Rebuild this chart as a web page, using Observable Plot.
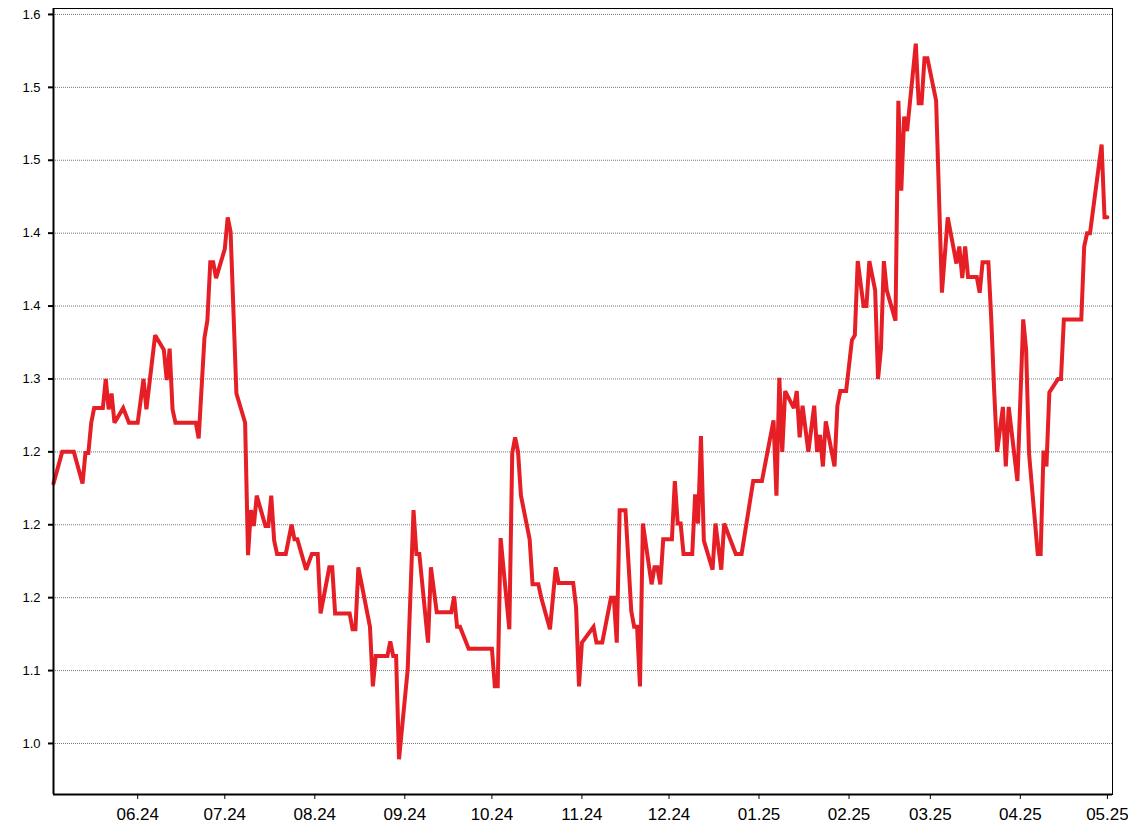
<!DOCTYPE html>
<html>
<head>
<meta charset="utf-8">
<script src="https://cdn.jsdelivr.net/npm/d3@7"></script>
<script src="https://cdn.jsdelivr.net/npm/@observablehq/plot@0.6"></script>
<style>
  html, body { margin: 0; padding: 0; background: #fff; }
  #chart svg { display: block; }
</style>
</head>
<body>
<div id="chart"></div>
<script>
const dates = [
"2024-05-03","2024-05-06","2024-05-10","2024-05-13","2024-05-14","2024-05-15","2024-05-16","2024-05-17",
"2024-05-20","2024-05-21","2024-05-22","2024-05-23","2024-05-24","2024-05-27","2024-05-29","2024-06-01",
"2024-06-03","2024-06-04","2024-06-07","2024-06-10","2024-06-11","2024-06-12","2024-06-13","2024-06-14",
"2024-06-21","2024-06-22","2024-06-24","2024-06-25","2024-06-26","2024-06-27","2024-06-28","2024-07-01",
"2024-07-02","2024-07-03","2024-07-05","2024-07-08","2024-07-09","2024-07-10","2024-07-11","2024-07-12",
"2024-07-15","2024-07-16","2024-07-17","2024-07-18","2024-07-19","2024-07-22","2024-07-24","2024-07-25",
"2024-07-26","2024-07-29","2024-07-31","2024-08-02","2024-08-03","2024-08-06","2024-08-07","2024-08-08",
"2024-08-13","2024-08-14","2024-08-15","2024-08-16","2024-08-20","2024-08-21","2024-08-22","2024-08-26",
"2024-08-27","2024-08-28","2024-08-29","2024-08-30","2024-09-02","2024-09-04","2024-09-05","2024-09-06",
"2024-09-09","2024-09-10","2024-09-12","2024-09-17","2024-09-18","2024-09-19","2024-09-20","2024-09-23",
"2024-10-01","2024-10-02","2024-10-03","2024-10-04","2024-10-07","2024-10-08","2024-10-09","2024-10-10",
"2024-10-11","2024-10-14","2024-10-15","2024-10-17","2024-10-18","2024-10-21","2024-10-23","2024-10-24",
"2024-10-29","2024-10-30","2024-10-31","2024-11-01","2024-11-05","2024-11-06","2024-11-08","2024-11-11",
"2024-11-12","2024-11-13","2024-11-14","2024-11-16","2024-11-18","2024-11-19","2024-11-20","2024-11-21",
"2024-11-22","2024-11-25","2024-11-26","2024-11-27","2024-11-28","2024-11-29","2024-12-02","2024-12-03",
"2024-12-04","2024-12-05","2024-12-06","2024-12-09","2024-12-10","2024-12-11","2024-12-12","2024-12-13",
"2024-12-16","2024-12-17","2024-12-19","2024-12-20","2024-12-24","2024-12-26","2024-12-30","2025-01-02",
"2025-01-06","2025-01-07","2025-01-08","2025-01-09","2025-01-10","2025-01-13","2025-01-14","2025-01-15",
"2025-01-16","2025-01-18","2025-01-20","2025-01-21","2025-01-22","2025-01-23","2025-01-24","2025-01-27",
"2025-01-28","2025-01-29","2025-01-31","2025-02-02","2025-02-03","2025-02-04","2025-02-06","2025-02-07",
"2025-02-08","2025-02-10","2025-02-11","2025-02-12","2025-02-13","2025-02-14","2025-02-17","2025-02-18",
"2025-02-19","2025-02-20","2025-02-21","2025-02-24","2025-02-25","2025-02-26","2025-02-27","2025-02-28",
"2025-03-03","2025-03-05","2025-03-07","2025-03-10","2025-03-11","2025-03-12","2025-03-13","2025-03-14",
"2025-03-17","2025-03-18","2025-03-19","2025-03-21","2025-03-22","2025-03-23","2025-03-24","2025-03-26",
"2025-03-27","2025-03-28","2025-03-31","2025-04-02","2025-04-03","2025-04-04","2025-04-07","2025-04-08",
"2025-04-09","2025-04-10","2025-04-11","2025-04-14","2025-04-15","2025-04-16","2025-04-22","2025-04-23",
"2025-04-24","2025-04-25","2025-04-29","2025-04-30","2025-05-01"
];
const values = [
1.214,1.240,1.240,1.214,1.239,1.239,1.264,1.276,
1.276,1.300,1.275,1.288,1.264,1.276,1.264,1.264,
1.300,1.275,1.336,1.324,1.299,1.325,1.275,1.264,
1.264,1.251,1.334,1.348,1.396,1.396,1.383,1.407,
1.433,1.421,1.288,1.264,1.155,1.192,1.179,1.204,
1.179,1.179,1.204,1.167,1.156,1.156,1.180,1.168,
1.168,1.143,1.156,1.156,1.107,1.145,1.145,1.107,
1.107,1.094,1.094,1.145,1.096,1.047,1.072,1.072,
1.084,1.072,1.072,0.987,1.061,1.192,1.156,1.156,
1.083,1.145,1.108,1.108,1.121,1.096,1.096,1.078,
1.078,1.047,1.047,1.169,1.094,1.239,1.252,1.240,
1.204,1.168,1.131,1.131,1.120,1.094,1.145,1.132,
1.132,1.112,1.047,1.083,1.096,1.083,1.083,1.120,
1.120,1.083,1.192,1.192,1.109,1.096,1.096,1.047,
1.181,1.131,1.145,1.145,1.131,1.168,1.168,1.216,
1.181,1.181,1.156,1.156,1.205,1.181,1.253,1.167,
1.143,1.181,1.143,1.181,1.156,1.156,1.216,1.216,
1.266,1.204,1.301,1.240,1.290,1.276,1.290,1.252,
1.278,1.240,1.278,1.240,1.254,1.228,1.265,1.228,
1.278,1.290,1.290,1.332,1.336,1.397,1.360,1.360,
1.397,1.373,1.300,1.325,1.397,1.373,1.348,1.529,
1.455,1.516,1.504,1.576,1.527,1.527,1.564,1.564,
1.529,1.371,1.433,1.395,1.409,1.383,1.409,1.384,
1.384,1.371,1.396,1.396,1.349,1.290,1.240,1.277,
1.228,1.277,1.216,1.349,1.324,1.239,1.156,1.156,
1.241,1.228,1.289,1.300,1.300,1.349,1.349,1.409,
1.420,1.420,1.493,1.433,1.433
];
const yTicks = [1.00, 1.06, 1.12, 1.18, 1.24, 1.30, 1.36, 1.42, 1.48, 1.54, 1.60];
const yTickLabels = ["1.0", "1.1", "1.2", "1.2", "1.2", "1.3", "1.4", "1.4", "1.5", "1.5", "1.6"];
const xTickDates = ["2024-06-01","2024-07-01","2024-08-01","2024-09-01","2024-10-01","2024-11-01",
                    "2024-12-01","2025-01-01","2025-02-01","2025-03-01","2025-04-01","2025-05-01"];

const data = dates.map((d, i) => ({date: new Date(d), value: values[i]}));
const xTicks = xTickDates.map(d => new Date(d));
const fmt = d3.utcFormat("%m.%y");

const chart = Plot.plot({
  width: 1128,
  height: 836,
  marginLeft: 53,
  marginTop: 8,
  marginRight: 16,
  marginBottom: 42,
  style: {fontFamily: "'Liberation Sans', Arial, sans-serif", background: "#fff", color: "#000"},
  x: {type: "utc", domain: [new Date("2024-05-03T00:00Z"), new Date("2025-05-02T18:00Z")]},
  y: {domain: [0.958, 1.6049]},
  marks: [
    Plot.gridY(yTicks, {stroke: "#777", strokeOpacity: 1, strokeWidth: 1, strokeDasharray: "1,1"}),
    Plot.line(data, {x: "date", y: "value", stroke: "#e61e25", strokeWidth: 4, strokeLinejoin: "miter", strokeMiterlimit: 3}),
    Plot.frame({stroke: "#000", strokeWidth: 1}),
    Plot.ruleX([new Date("2024-05-03T00:00Z")], {stroke: "#000", strokeWidth: 2}),
    Plot.ruleY([0.958], {stroke: "#000", strokeWidth: 2}),
    Plot.axisY(yTicks, {
      tickFormat: (d, i) => yTickLabels[i],
      tickSize: 5, tickPadding: 8, fontSize: 13, label: null, stroke: "#000", strokeWidth: 2
    }),
    Plot.axisX(xTicks, {
      tickFormat: fmt, tickSize: 5, tickPadding: 8, fontSize: 17, label: null, stroke: "#000"
    })
  ]
});
document.getElementById("chart").appendChild(chart);
</script>
</body>
</html>
